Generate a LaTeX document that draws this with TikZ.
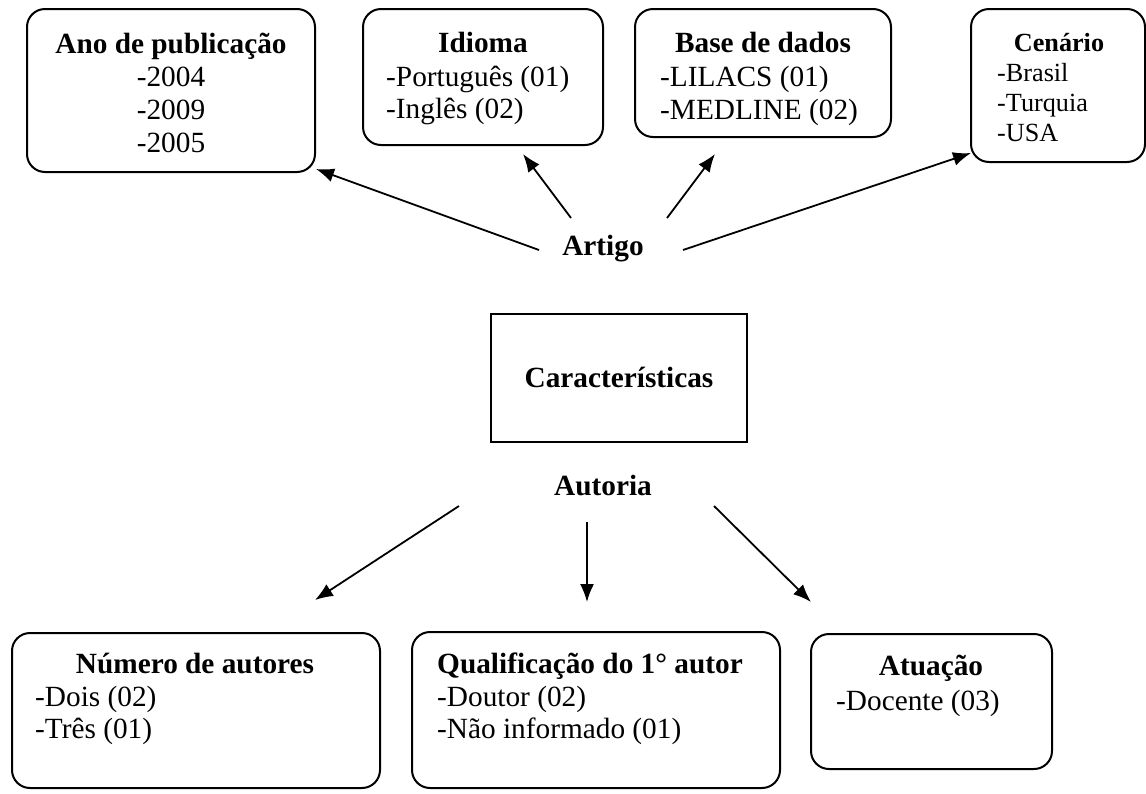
\documentclass[tikz,border=0pt]{standalone}
\usepackage{fontspec}
\setmainfont{Liberation Serif}
\usetikzlibrary{arrows.meta}
\begin{document}
\begin{tikzpicture}
  [x=1pt,y=-1pt,
   card/.style={draw, line width=2pt, rounded corners=18pt, inner sep=0pt},
   plainbox/.style={draw, line width=2pt, inner sep=0pt},
   head/.style={font=\fontsize{29.3}{33.5}\selectfont\bfseries, inner sep=0pt, anchor=base},
   item/.style={font=\fontsize{29.3}{33.5}\selectfont, inner sep=0pt, anchor=base west},
   small/.style={font=\fontsize{26.2}{30}\selectfont},
   arr/.style={-{Latex[length=18pt,width=14pt]}, line width=1.8pt}]
  \useasboundingbox (0,0) rectangle (1146,793);

  % boxes
  \node[card, minimum width=288pt, minimum height=163pt] (ano) at (171,90.5) {};
  \node[card, minimum width=240pt, minimum height=136pt] (idioma) at (483,77) {};
  \node[card, minimum width=256pt, minimum height=128pt] (base) at (763,73) {};
  \node[card, minimum width=174pt, minimum height=153pt] (cenario) at (1058,85.5) {};
  \node[plainbox, minimum width=256pt, minimum height=128pt] (caract) at (619,378) {};
  \node[card, minimum width=368pt, minimum height=155pt] (numero) at (196,710.5) {};
  \node[card, minimum width=368pt, minimum height=156pt] (qualif) at (596,710) {};
  \node[card, minimum width=241pt, minimum height=135pt] (atuacao) at (931.5,701.5) {};

  % texts
  \node[head] (ano-h) at (171,53) {Ano de publicação};
  \foreach \yr [count=\i] in {2004,2009,2005}
    \node[item, anchor=base] (ano\i) at (171,53+33*\i) {-\yr};

  \node[head] (idioma-h) at (483,52) {Idioma};
  \node[item] (idioma1) at (386,86) {-Português (01)};
  \node[item] (idioma2) at (386,118) {-Inglês (02)};

  \node[head] (base-h) at (763,52) {Base de dados};
  \node[item] (base1) at (660,86) {-LILACS (01)};
  \node[item] (base2) at (660,119) {-MEDLINE (02)};

  \node[head, small, font=\fontsize{26.2}{30}\selectfont\bfseries] (cenario-h) at (1059,51) {Cenário};
  \foreach \pais [count=\i] in {Brasil,Turquia,USA}
    \node[item, small] (cenario\i) at (997,51+30*\i) {-\pais};

  \node[head] (caract-h) at (619,387) {Características};
  \node[head] (artigo) at (603,255) {Artigo};
  \node[head] (autoria) at (603,495) {Autoria};

  \node[head] (numero-h) at (195,673) {Número de autores};
  \node[item] (numero1) at (35,706) {-Dois (02)};
  \node[item] (numero2) at (35,738) {-Três (01)};

  \node[head] (qualif-h) at (590,673) {Qualificação do 1° autor};
  \node[item] (qualif1) at (437,706) {-Doutor (02)};
  \node[item] (qualif2) at (437,738) {-Não informado (01)};

  \node[head] (atuacao-h) at (931,675) {Atuação};
  \node[item] (atuacao1) at (836,710) {-Docente (03)};

  % arrow ends
  \coordinate (art1) at (539,250);  \coordinate (ano-in) at (316,169);
  \coordinate (art2) at (571,218);  \coordinate (idioma-in) at (523,154);
  \coordinate (art3) at (667,218);  \coordinate (base-in) at (715,154);
  \coordinate (art4) at (683,250);  \coordinate (cenario-in) at (971,153);
  \coordinate (aut1) at (459,506);  \coordinate (numero-in) at (315,600);
  \coordinate (aut2) at (587,522);  \coordinate (qualif-in) at (587,602);
  \coordinate (aut3) at (714,506);  \coordinate (atuacao-in) at (811,602);

  \foreach \from/\to in {art1/ano-in, art2/idioma-in, art3/base-in, art4/cenario-in,
                         aut1/numero-in, aut2/qualif-in, aut3/atuacao-in}
    \draw[arr] (\from) -- (\to);
\end{tikzpicture}
\end{document}
